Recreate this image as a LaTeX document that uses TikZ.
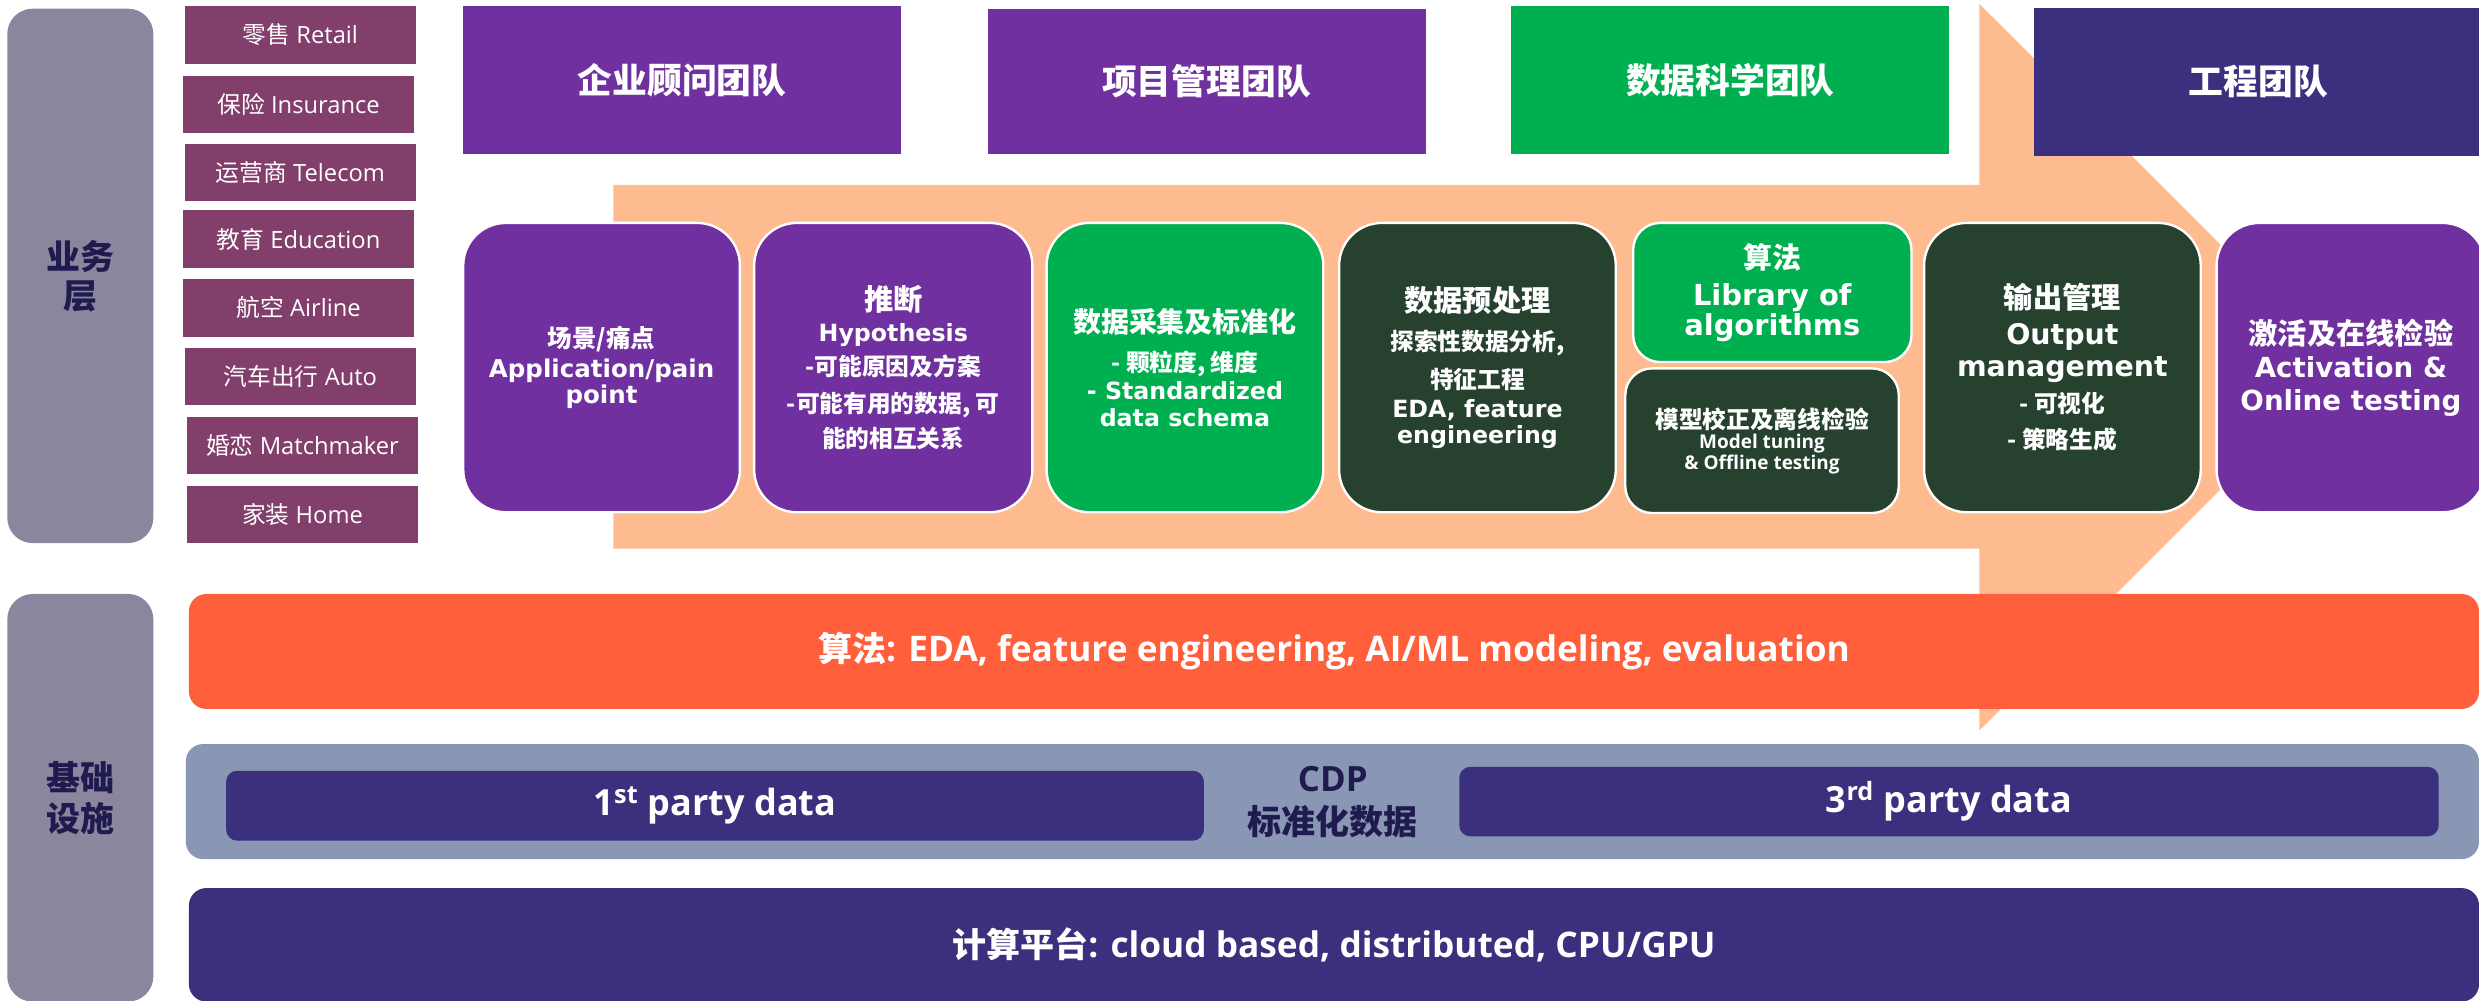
\documentclass[tikz,border=0pt]{standalone}
\usepackage{fontspec}
\setmainfont{DejaVu Sans}
\newfontfamily\zh{Noto Sans CJK SC}
\newfontfamily\dv{DejaVu Sans}
\newfontfamily\os{Open Sans}
\newcommand\Z[1]{{\zh#1}}
\definecolor{grayb}{HTML}{8B869E}
\definecolor{maroon}{HTML}{833F6B}
\definecolor{purp}{HTML}{7030A0}
\definecolor{grn}{HTML}{00B050}
\definecolor{dkgrn}{HTML}{26412E}
\definecolor{navy}{HTML}{3A307E}
\definecolor{peach}{HTML}{FFBB90}
\definecolor{orng}{HTML}{FF5F3B}
\definecolor{bluegray}{HTML}{8996B4}
\definecolor{txtnavy}{HTML}{1F1B4E}
\newcommand\bx[7]{\node[#2,anchor=north west,minimum width={#5-#3},minimum height={#6-#4}] (#1) at (#3,#4) {#7};}
\tikzset{
  base/.style={inner sep=0pt, outer sep=0pt, align=center, text=white},
  leftbox/.style={base, fill=grayb, rounded corners=16pt, text=txtnavy, font=\bfseries\zh\fontsize{21.5}{25}\selectfont},
  indbox/.style={base, fill=maroon, font=\os\fontsize{15}{18}\selectfont},
  teambox/.style={base, font=\bfseries\zh\fontsize{22}{26}\selectfont},
  stepbox/.style={base, draw=white, line width=1.5pt, rounded corners=27pt},
  smallstep/.style={stepbox, rounded corners=17pt},
  band/.style={base, rounded corners=11pt, font=\bfseries\os\fontsize{22.3}{27}\selectfont},
  partybox/.style={base, fill=navy, rounded corners=7pt, font=\bfseries\os\fontsize{22.8}{27}\selectfont},
}
\begin{document}
\begin{tikzpicture}[x=1pt,y=-1pt]
\useasboundingbox (0,0) rectangle (1568,633);
\clip (0,0) rectangle (1568,633);
% big process arrow
\fill[peach] (388,117) -- (1252,117) -- (1252,2.5) -- (1482,232) -- (1252,462) -- (1252,347) -- (388,347) -- cycle;
% left layer labels
\bx{biz}{leftbox}{4.6}{5.5}{97}{343.5}{业务\\[-0.3pt]层}
\bx{infra}{leftbox}{4.6}{375.7}{97}{633.5}{基础\\[1pt]设施}
% industries
\bx{i1}{indbox}{117}{4}{263}{40.2}{\Z{零售} Retail}
\bx{i2}{indbox}{115.7}{48.1}{262}{84.3}{\Z{保险} Insurance}
\bx{i3}{indbox}{117}{90.8}{263}{127.3}{\Z{运营商} Telecom}
\bx{i4}{indbox}{115.7}{133.1}{262}{169.4}{\Z{教育} Education}
\bx{i5}{indbox}{115.7}{176.5}{262}{213}{\Z{航空} Airline}
\bx{i6}{indbox}{117}{219.9}{263}{256.4}{\Z{汽车出行} Auto}
\bx{i7}{indbox}{118.3}{263.5}{264.4}{300}{\Z{婚恋} Matchmaker}
\bx{i8}{indbox}{118.3}{307.1}{264.4}{343.4}{\Z{家装} Home}
% teams
\bx{t1}{teambox,fill=purp}{293}{4}{570}{97.6}{企业顾问团队}
\bx{t2}{teambox,fill=purp}{624.6}{5.7}{901.7}{97.6}{项目管理团队}
\bx{t3}{teambox,fill=grn}{956}{4}{1233}{97.6}{数据科学团队}
\bx{t4}{teambox,fill=navy}{1286.7}{5}{1570}{98.5}{工程团队}
% process steps
\bx{s1}{stepbox,fill=purp,font=\bfseries\dv\fontsize{15.5}{16.5}\selectfont}{293}{141}{468}{324}{\Z{场景/痛点}\\[2.3pt]Application/pain\\point}
\bx{s2}{stepbox,fill=purp,font=\bfseries\dv\fontsize{15}{22}\selectfont}{477}{141}{653}{324}{{\zh\fontsize{18.5}{22}\selectfont 推断}\\[-2pt]Hypothesis\\[-0.5pt]\Z{-可能原因及方案}\\[1.1pt]\Z{-可能有用的数据, 可}\\[0.4pt]\Z{能的相互关系}}
\bx{s3}{stepbox,fill=grn,font=\bfseries\dv\fontsize{15}{17}\selectfont}{662}{141}{837}{324}{{\zh\fontsize{17.7}{17}\selectfont 数据采集及标准化}\\[7.3pt]\Z{- 颗粒度, 维度}\\[1pt]- Standardized\\[-0.3pt]data schema}
\bx{s4}{stepbox,fill=dkgrn,font=\bfseries\dv\fontsize{15}{17}\selectfont}{847}{141}{1022}{324}{{\zh\fontsize{18.5}{17}\selectfont 数据预处理}\\[8pt]\Z{探索性数据分析,}\\[7pt]\Z{特征工程}\\[1.4pt]EDA, feature\\[-0.4pt]engineering}
\bx{s5a}{smallstep,fill=grn,font=\bfseries\dv\fontsize{18.3}{18.5}\selectfont}{1033}{141}{1209}{229}{\Z{算法}\\[5pt]Library of\\algorithms}
\bx{s5b}{smallstep,fill=dkgrn,font=\bfseries\os\fontsize{12}{12}\selectfont}{1028}{233}{1201}{324.5}{{\zh\fontsize{15}{12}\selectfont 模型校正及离线检验}\\[1pt]Model tuning\\\& Offline testing}
\bx{s6}{stepbox,fill=dkgrn,font=\bfseries\dv\fontsize{18}{22}\selectfont}{1217}{141}{1392}{324}{{\zh\fontsize{18.5}{22}\selectfont 输出管理}\\[0.8pt]Output\\[-2pt]management\\[0.8pt]{\zh\fontsize{15}{22}\selectfont - 可视化}\\[1pt]{\zh\fontsize{15}{22}\selectfont - 策略生成}}
\bx{s7}{stepbox,fill=purp,font=\bfseries\dv\fontsize{17.5}{21}\selectfont}{1402}{141}{1572}{324}{{\zh\fontsize{18.5}{21}\selectfont 激活及在线检验}\\[0.4pt]Activation \&\\[-0.4pt]Online testing}
% foundation bands
\bx{algo}{band,fill=orng}{119.5}{375.7}{1568}{448.4}{{\zh\fontsize{21.5}{27}\selectfont 算法}: EDA, feature engineering, AI/ML modeling, evaluation}
\bx{cdpband}{band,fill=bluegray}{117.5}{470.6}{1568}{543.4}{}
\bx{p1}{partybox}{143}{487.5}{761.5}{531.7}{1\textsuperscript{st} party data}
\bx{p3}{partybox}{923}{485}{1542.5}{529}{3\textsuperscript{rd} party data}
\node[base, text=txtnavy, font=\bfseries\os\fontsize{22}{27}\selectfont] (cdp) at (843,507.5) {CDP\\{\zh\fontsize{21.5}{27}\selectfont 标准化数据}};
\bx{compute}{band,fill=navy}{119.5}{561.7}{1568}{633.5}{{\zh\fontsize{21.5}{27}\selectfont 计算平台}: cloud based, distributed, CPU/GPU}
\end{tikzpicture}
\end{document}
